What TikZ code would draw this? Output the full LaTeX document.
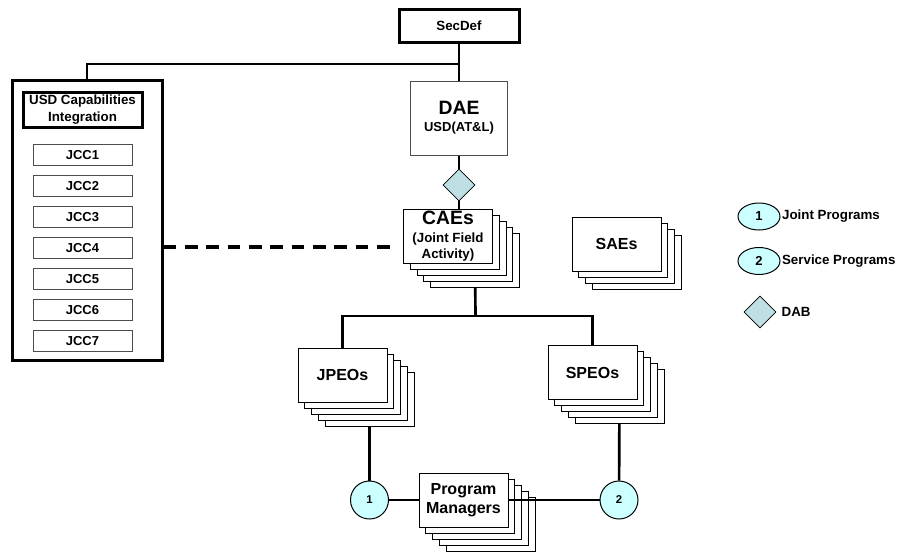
\documentclass[tikz,border=0pt]{standalone}
\usepackage{fontspec}
\setmainfont{Liberation Sans}
\usetikzlibrary{shapes.geometric}

\definecolor{ringfill}{RGB}{204,255,255}
\definecolor{dabfill}{RGB}{190,224,229}

% stacked cards: name, x, y, layers, text
\newcommand{\cardstack}[5]{%
  \foreach \k in {#4,...,1}
    \node[card] (#1\k) at ({#2+\k*6.75},{#3+\k*6}) {};
  \node[card] (#1) at (#2,#3) {#5};
}

\begin{document}
\begin{tikzpicture}[
    x=0.75pt, y=-0.75pt,
    link/.style={line width=2pt},
    box/.style={draw, inner sep=0pt, align=center, font=\bfseries},
    heavybox/.style={box, line width=2.25pt},
    thinbox/.style={box, draw=black!70, line width=0.75pt},
    card/.style={draw, fill=white, line width=0.75pt, minimum width=66.75pt,
                 minimum height=40.5pt, inner sep=0pt, align=center,
                 font=\bfseries\fontsize{12}{14}\selectfont},
    ring/.style={circle, draw, fill=ringfill, line width=0.75pt, minimum size=28.5pt,
                 inner sep=0pt, font=\bfseries\fontsize{8.5}{10}\selectfont},
    gem/.style={diamond, draw, fill=dabfill, line width=0.6pt, minimum width=24pt,
                minimum height=24pt, inner sep=0pt},
    note/.style={anchor=west, inner sep=0pt, font=\bfseries\fontsize{10}{12}\selectfont}
]
  \useasboundingbox (0,0) rectangle (897,554);

  %--- top ---
  \node[heavybox, minimum width=90pt, minimum height=24.75pt,
        font=\bfseries\fontsize{10}{12}\selectfont] (SecDef) at (459,25.5) {SecDef};
  \node[thinbox, minimum width=72.75pt, minimum height=55.5pt,
        font=\bfseries\fontsize{9.75}{13}\selectfont] (DAE) at (459,118)
        {{\fontsize{14.5}{16}\selectfont DAE}\\USD(AT\&L)};
  \node[gem] (DAB) at (459,185) {};

  %--- capabilities column ---
  \node[heavybox, minimum width=112.5pt, minimum height=210pt] (CapBox) at (87,220) {};
  \node[heavybox, minimum width=89.25pt, minimum height=26.25pt,
        font=\bfseries\fontsize{10}{13}\selectfont] (USD) at (82.5,109.5)
        {USD Capabilities\\Integration};
  \foreach \i in {1,...,7}
    \node[thinbox, minimum width=74.25pt, minimum height=15.75pt,
          font=\bfseries\fontsize{9.75}{12}\selectfont] (JCC\i) at (82.5,{124+31*\i}) {JCC\i};

  %--- stacks ---
  \cardstack{CAE}{448}{236}{4}{{\fontsize{14.5}{15}\selectfont CAEs}\\[-1pt]
      {\fontsize{10}{11}\selectfont (Joint Field}\\[-2pt]{\fontsize{10}{11}\selectfont Activity)}}
  \cardstack{SAE}{616.5}{244}{3}{SAEs}
  \cardstack{JPEO}{342.5}{375}{4}{JPEOs}
  \cardstack{SPEO}{592.5}{372.5}{4}{SPEOs}
  \cardstack{PM}{463.5}{500}{4}{Program\\Managers}

  \node[ring] (C1) at (369.5,500) {1};
  \node[ring] (C2) at (619,500) {2};

  %--- legend ---
  \node[ring, ellipse, minimum width=31.5pt, minimum height=20.25pt,
        font=\bfseries\fontsize{9.75}{12}\selectfont] (L1) at (759,216.5) {1};
  \node[ring, ellipse, minimum width=31.5pt, minimum height=20.25pt,
        font=\bfseries\fontsize{9.75}{12}\selectfont] (L2) at (759,261) {2};
  \node[gem] (LDAB) at (760,312) {};
  \node[note, xshift=1pt] (L1txt) at (L1.east) {Joint Programs};
  \node[note, xshift=1pt] (L2txt) at (L2.east) {Service Programs};
  \node[note, xshift=3.75pt] (LDABtxt) at (LDAB.east) {DAB};

  %--- connectors ---
  \coordinate (jn) at (459,64);
  \coordinate (split) at (475.5,316);
  \coordinate (dashend) at (398,247);
  \draw[link] (SecDef) -- (DAE);
  \draw[link] (CapBox.north) |- (jn);
  \draw[link] (DAE) -- (DAB);
  \draw[link] (DAB) -- (DAB |- CAE.north);
  \draw[link, line width=2.5pt, dash pattern=on 9.5pt off 6.5pt]
        (CapBox.east |- dashend) -- (dashend);
  \draw[link] (CAE4) -- (split);
  \draw[link] (JPEO.north) |- (split) -| (SPEO.north);
  \draw[link] (JPEO4) -- (C1);
  \draw[link] (SPEO4) -- (C2);
  \draw[link] (C1) -- (PM);
  \draw[link] (PM) -- (C2);
\end{tikzpicture}
\end{document}
